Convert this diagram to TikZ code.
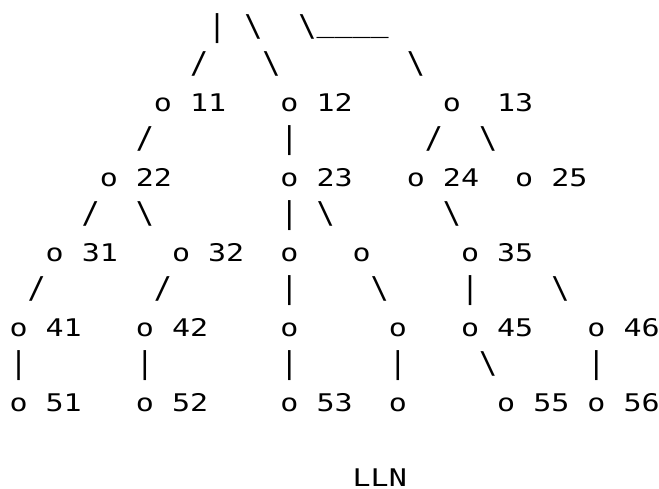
\documentclass[tikz,border=0pt]{standalone}
\usepackage{fontspec}
\setmonofont{DejaVu Sans Mono}
\begin{document}
\begin{tikzpicture}[x=1pt,y=1pt,
  conglyph/.style={anchor=base west,inner sep=0pt,outer sep=0pt,
    font=\ttfamily\fontsize{30}{37.5}\selectfont,text=black},
  labglyph/.style={anchor=base west,inner sep=0pt,outer sep=0pt,
    font=\ttfamily\fontsize{24.3}{30}\selectfont,text=black}]
\useasboundingbox (0,0) rectangle (659,-489);
% connector characters (col, row)
\def\con#1#2#3#4{\node[conglyph] (#1) at ({9.5+#2*18.06},{-36.3-#3*37.5}) {#4};}
% node labels, each character in its own 18.06pt cell
\def\lab#1#2#3#4{\node[labglyph] (#1) at ({9.5+#2*18.06},{-36.3-#3*37.5}) {\scalebox{1.235}[1]{#4}};}
% row 0
\con{c0a}{11}{0}{|}
\con{c0b}{13}{0}{\textbackslash}
\con{c0c}{16}{0}{\textbackslash\raisebox{4.5pt}{\_\_\_\_}}
% row 1
\con{c1a}{10}{1}{/}
\con{c1b}{14}{1}{\textbackslash}
\con{c1c}{22}{1}{\textbackslash}
% row 2
\lab{n11}{8}{2}{o~11}
\lab{n12}{15}{2}{o~12}
\lab{n13}{24}{2}{o~~13}
% row 3
\con{c3a}{7}{3}{/}
\con{c3b}{15}{3}{|}
\con{c3c}{23}{3}{/}
\con{c3d}{26}{3}{\textbackslash}
% row 4
\lab{n22}{5}{4}{o~22}
\lab{n23}{15}{4}{o~23}
\lab{n24}{22}{4}{o~24}
\lab{n25}{28}{4}{o~25}
% row 5
\con{c5a}{4}{5}{/}
\con{c5b}{7}{5}{\textbackslash}
\con{c5c}{15}{5}{|}
\con{c5d}{17}{5}{\textbackslash}
\con{c5e}{24}{5}{\textbackslash}
% row 6
\lab{n31}{2}{6}{o~31}
\lab{n32}{9}{6}{o~32}
\lab{n33}{15}{6}{o}
\lab{n34}{19}{6}{o}
\lab{n35}{25}{6}{o~35}
% row 7
\con{c7a}{1}{7}{/}
\con{c7b}{8}{7}{/}
\con{c7c}{15}{7}{|}
\con{c7d}{20}{7}{\textbackslash}
\con{c7e}{25}{7}{|}
\con{c7f}{30}{7}{\textbackslash}
% row 8
\lab{n41}{0}{8}{o~41}
\lab{n42}{7}{8}{o~42}
\lab{n43}{15}{8}{o}
\lab{n44}{21}{8}{o}
\lab{n45}{25}{8}{o~45}
\lab{n46}{32}{8}{o~46}
% row 9
\con{c9a}{0}{9}{|}
\con{c9b}{7}{9}{|}
\con{c9c}{15}{9}{|}
\con{c9d}{21}{9}{|}
\con{c9e}{26}{9}{\textbackslash}
\con{c9f}{32}{9}{|}
% row 10
\lab{n51}{0}{10}{o~51}
\lab{n52}{7}{10}{o~52}
\lab{n53}{15}{10}{o~53}
\lab{n54}{21}{10}{o}
\lab{n55}{27}{10}{o~55}
\lab{n56}{32}{10}{o~56}
% caption
\lab{lln}{19}{12}{LLN}
\end{tikzpicture}
\end{document}
